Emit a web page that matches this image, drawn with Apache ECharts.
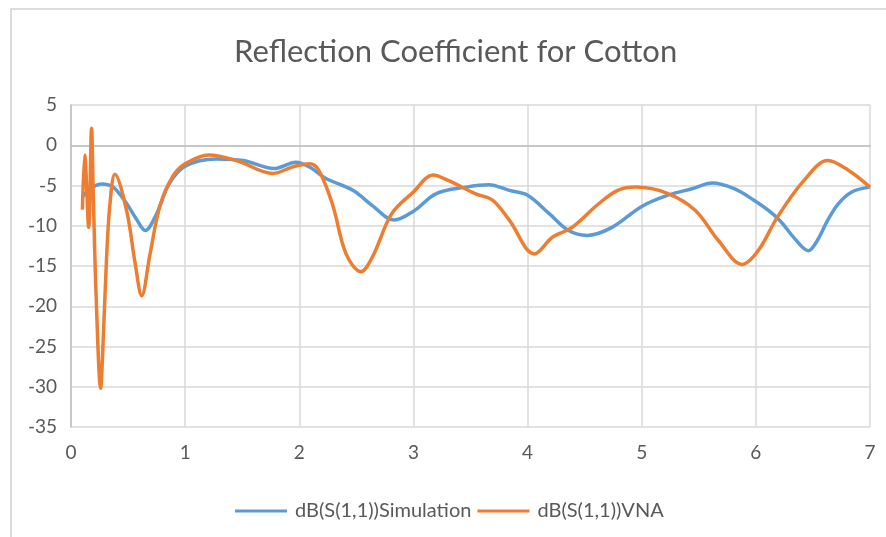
<!DOCTYPE html>
<html>
<head>
<meta charset="utf-8">
<script src="https://cdn.jsdelivr.net/npm/echarts@6/dist/echarts.min.js"></script>
<style>
  html, body { margin: 0; padding: 0; background: #fff; }
  #chart { width: 886px; height: 537px; }
</style>
</head>
<body>
<div id="chart"></div>
<script>
// frequency (GHz) and dB values
var simFreq = [0.10, 0.18, 0.27, 0.37, 0.49, 0.57, 0.65, 0.75, 0.86, 1.00, 1.27, 1.51, 1.78, 1.97, 2.09, 2.23, 2.47, 2.64, 2.83, 3.00, 3.20, 3.46, 3.66, 3.84, 4.00, 4.19, 4.36, 4.52, 4.74, 5.00, 5.23, 5.44, 5.62, 5.81, 5.98, 6.11, 6.22, 6.34, 6.46, 6.54, 6.63, 6.72, 6.84, 7.00];
var simDb   = [-6.4, -5.3, -4.8, -5.2, -7.3, -9.1, -10.6, -8.5, -4.8, -2.6, -1.7, -1.9, -2.9, -2.1, -2.7, -4.1, -5.6, -7.5, -9.3, -8.2, -6.0, -5.2, -4.9, -5.6, -6.2, -8.5, -10.6, -11.2, -10.2, -7.6, -6.2, -5.4, -4.7, -5.4, -6.8, -8.1, -9.5, -11.6, -13.1, -11.8, -9.3, -7.3, -5.8, -5.2];

var vnaFreq = [0.10, 0.12, 0.155, 0.18, 0.195, 0.22, 0.26, 0.28, 0.31, 0.34, 0.385, 0.49, 0.56, 0.62, 0.69, 0.78, 0.89, 1.00, 1.21, 1.45, 1.77, 1.94, 2.09, 2.17, 2.29, 2.41, 2.54, 2.64, 2.81, 3.00, 3.17, 3.31, 3.54, 3.69, 3.84, 4.06, 4.22, 4.39, 4.62, 4.79, 4.95, 5.23, 5.47, 5.67, 5.88, 6.02, 6.19, 6.42, 6.63, 6.81, 7.00];
var vnaDb   = [-8.0, -1.2, -10.2, 2.1, -6.0, -18.7, -30.2, -24.9, -14.5, -7.5, -3.6, -8.3, -14.5, -18.7, -13.7, -7.5, -3.9, -2.3, -1.2, -1.9, -3.5, -2.7, -2.3, -3.1, -7.3, -13.5, -15.7, -13.9, -8.5, -5.8, -3.7, -4.4, -6.0, -6.8, -9.3, -13.5, -11.4, -10.2, -7.3, -5.6, -5.2, -6.0, -8.1, -11.8, -14.8, -13.1, -8.9, -4.4, -1.9, -3.1, -5.2];

var xTicks = [0, 7, 1];
var yTicks = [-35, 5, 5];

function pairs(xs, ys) {
    var out = [];
    for (var i = 0; i < xs.length; i++) out.push([xs[i], ys[i]]);
    return out;
}

var chart = echarts.init(document.getElementById('chart'));
var fontName = 'Lato';
var option = {
    backgroundColor: '#fff',
    animation: false,
    // chart area frame (runs off the right/bottom edge like the screenshot)
    graphic: [{
        type: 'rect',
        shape: { x: 11, y: 9, width: 900, height: 560 },
        style: { fill: 'none', stroke: '#d0d0d0', lineWidth: 1.5 },
        silent: true
    }],
    title: {
        text: 'Reflection Coefficient for Cotton',
        left: 229,
        top: 31,
        textStyle: { color: '#595959', fontSize: 31, fontWeight: 'normal', fontFamily: fontName }
    },
    legend: {
        top: 496,
        left: 230,
        icon: 'rect',
        itemWidth: 52,
        itemHeight: 3,
        itemGap: 6,
        textStyle: { color: '#595959', fontSize: 20, fontFamily: fontName, padding: [0, 0, 0, 3] },
        data: ['dB(S(1,1))Simulation', 'dB(S(1,1))VNA']
    },
    grid: { left: 71, right: 16, top: 105, bottom: 110, containLabel: false },
    xAxis: {
        type: 'value',
        min: xTicks[0], max: xTicks[1], interval: xTicks[2],
        axisLine: { show: true, lineStyle: { color: '#bfbfbf', width: 1.5 } },
        axisTick: { show: false },
        axisLabel: { color: '#595959', fontSize: 19, fontFamily: fontName, margin: 16 },
        splitLine: { show: true, lineStyle: { color: '#d9d9d9', width: 1.5 } }
    },
    yAxis: {
        type: 'value',
        min: yTicks[0], max: yTicks[1], interval: yTicks[2],
        axisLine: { show: true, onZero: false, lineStyle: { color: '#bfbfbf', width: 1.5 } },
        axisTick: { show: false },
        axisLabel: { color: '#595959', fontSize: 19, fontFamily: fontName, margin: 14 },
        splitLine: { show: true, lineStyle: { color: '#d9d9d9', width: 1.5 } }
    },
    series: [
        {
            name: 'dB(S(1,1))Simulation',
            type: 'line',
            smooth: 0.35,
            showSymbol: false,
            lineStyle: { color: '#5b9bd5', width: 3.5 },
            itemStyle: { color: '#5b9bd5' },
            data: pairs(simFreq, simDb)
        },
        {
            name: 'dB(S(1,1))VNA',
            type: 'line',
            smooth: 0.35,
            showSymbol: false,
            lineStyle: { color: '#ed7d31', width: 3.5 },
            itemStyle: { color: '#ed7d31' },
            data: pairs(vnaFreq, vnaDb)
        }
    ]
};
chart.setOption(option);
</script>
</body>
</html>
